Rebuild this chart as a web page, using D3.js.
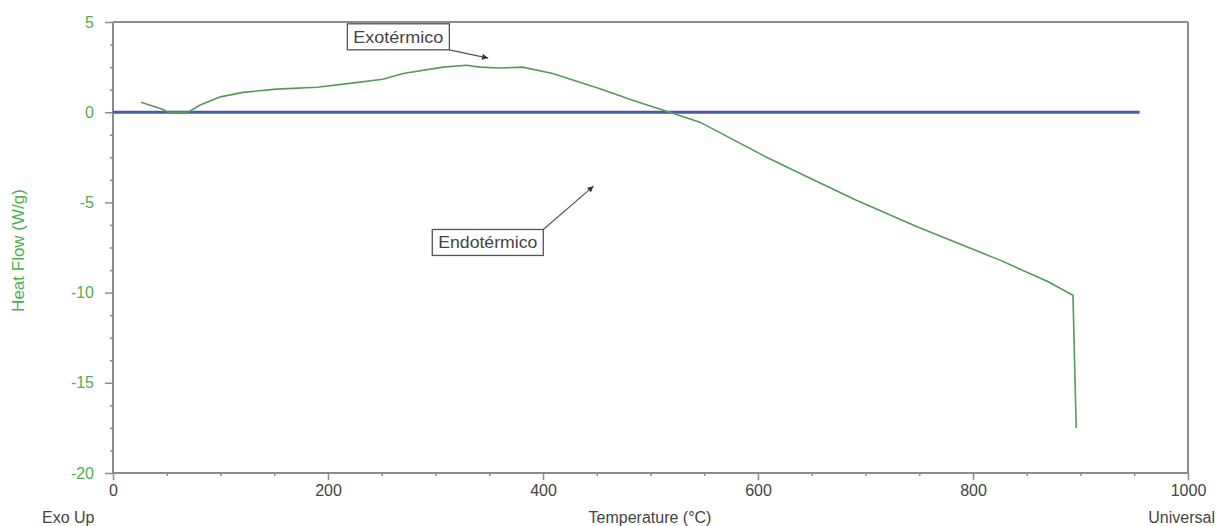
<!DOCTYPE html>
<html>
<head>
<meta charset="utf-8">
<script src="https://cdn.jsdelivr.net/npm/d3@7"></script>
<style>
  body { margin: 0; background: #fff; }
  text { font-family: "Liberation Sans", Arial, sans-serif; }
</style>
</head>
<body>
<svg id="chart" width="1217" height="526"></svg>
<script>
// DSC curve
const temps    = [26, 46, 51, 70, 81, 100, 121, 152, 190, 220, 251, 270, 307, 329, 341, 360, 381, 409, 453, 484, 515, 546, 608, 650, 692, 748, 825, 870, 893, 896]
const heatFlow = [0.55, 0.17, 0, 0, 0.4, 0.85, 1.1, 1.28, 1.38, 1.6, 1.83, 2.15, 2.5, 2.6, 2.5, 2.45, 2.5, 2.15, 1.3, 0.65, 0.05, -0.55, -2.5, -3.7, -4.9, -6.35, -8.2, -9.4, -10.15, -17.5]

// flat blue baseline
const baseTemps  = [0, 955]
const baseValues = [0, 0]

const xTicks = [0, 200, 400, 600, 800, 1000]
const yTicks = [-20, -15, -10, -5, 0, 5]

const notes = [
    {text: 'Exotérmico',  bx: 218, by: 4.9,  ex: 349, ey: 3.0},
    {text: 'Endotérmico', bx: 297, by: -6.5, ex: 447, ey: -4.1}
]

const margin = {top: 22, right: 29, bottom: 53, left: 113},
    width = 1217 - margin.left - margin.right,
    height = 526 - margin.top - margin.bottom

const axisGrey = '#8c8c8c', greenText = '#4fae4f', curveGreen = '#559a5a', blue = '#4b58a9'

let svg = d3.select('#chart')
svg.append('defs').append('marker')
    .attr('id', 'arrow')
    .attr('viewBox', '0 0 10 10')
    .attr('refX', 10).attr('refY', 5)
    .attr('markerWidth', 10).attr('markerHeight', 6)
    .attr('markerUnits', 'userSpaceOnUse')
    .attr('orient', 'auto')
    .append('path').attr('d', 'M0,0L10,5L0,10z').attr('fill', '#333')

let g = svg.append('g').attr('transform', `translate(${margin.left},${margin.top})`)

let x = d3.scaleLinear().domain([0, 1000]).range([0, width])
let y = d3.scaleLinear().domain([-20, 5]).range([height, 0])

// frame: top + right
g.append('line').attr('x1', 0).attr('x2', width).attr('y1', 0).attr('y2', 0)
    .attr('stroke', axisGrey).attr('stroke-width', 2)
g.append('line').attr('x1', width).attr('x2', width).attr('y1', 0).attr('y2', height)
    .attr('stroke', axisGrey).attr('stroke-width', 2)

// x axis
let xAxis = g.append('g').attr('transform', `translate(0,${height})`)
    .call(d3.axisBottom(x).tickValues(xTicks).tickSize(7).tickPadding(5).tickFormat(d => String(d)))
xAxis.append('g').call(d3.axisBottom(x).tickValues(d3.range(0, 1001, 50).filter(v => v % 200)).tickSize(3).tickFormat(''))
xAxis.selectAll('.domain').attr('d', `M0,0H${width}`)
xAxis.selectAll('path').attr('stroke', axisGrey).attr('stroke-width', 2)
xAxis.selectAll('line').attr('stroke', axisGrey).attr('stroke-width', 1.5)
xAxis.selectAll('text').attr('fill', '#444').style('font-size', '16px')

// y axis
let yAxis = g.append('g')
    .call(d3.axisLeft(y).tickValues(yTicks).tickSize(10).tickPadding(9).tickFormat(d => String(d)))
yAxis.append('g').call(d3.axisLeft(y).tickValues(d3.range(-20, 5.01, 1.25).filter(v => v % 5)).tickSize(5).tickFormat(''))
yAxis.selectAll('.domain').attr('d', `M0,0V${height}`)
yAxis.selectAll('path').attr('stroke', axisGrey).attr('stroke-width', 2)
yAxis.selectAll('line').attr('stroke', axisGrey).attr('stroke-width', 1.5).attr('x2', function () { return +d3.select(this).attr('x2') + 2 })
yAxis.selectAll('text').attr('fill', greenText).style('font-size', '16px')

// baseline
g.append('path')
    .datum(baseTemps.map((t, i) => [t, baseValues[i]]))
    .attr('d', d3.line().x(d => x(d[0])).y(d => y(d[1])))
    .attr('fill', 'none').attr('stroke', blue).attr('stroke-width', 3)

// curve
g.append('path')
    .datum(temps.map((t, i) => [t, heatFlow[i]]))
    .attr('d', d3.line().x(d => x(d[0])).y(d => y(d[1])))
    .attr('fill', 'none').attr('stroke', curveGreen).attr('stroke-width', 1.6)

// annotations
for (let n of notes) {
    let ng = g.append('g')
    let bx0 = x(n.bx), by0 = y(n.by)
    let box = ng.append('rect')
    let t = ng.append('text').text(n.text)
        .attr('x', bx0 + 6).attr('y', by0 + 19)
        .attr('fill', '#444').style('font-size', '16px')
        .attr('textLength', n.text.length * 9).attr('lengthAdjust', 'spacingAndGlyphs')
    let bw = n.text.length * 9 + 12, bh = 26
    box.attr('x', bx0).attr('y', by0).attr('width', bw).attr('height', bh)
        .attr('fill', '#fff').attr('stroke', '#555').attr('stroke-width', 1.3)
    // arrow leaves the corner facing its target
    let sy = n.ey < n.by ? by0 + bh : by0
    ng.append('line')
        .attr('x1', bx0 + bw).attr('y1', sy)
        .attr('x2', x(n.ex)).attr('y2', y(n.ey))
        .attr('stroke', '#555').attr('stroke-width', 1.2)
        .attr('marker-end', 'url(#arrow)')
}

// titles
svg.append('text').text('Heat Flow (W/g)')
    .attr('transform', `translate(24,${margin.top + height / 2 + 3}) rotate(-90)`)
    .attr('text-anchor', 'middle').attr('fill', greenText).style('font-size', '17px')
svg.append('text').text('Temperature (°C)')
    .attr('x', 650).attr('y', 523).attr('text-anchor', 'middle')
    .attr('fill', '#444').style('font-size', '16px')
svg.append('text').text('Exo Up')
    .attr('x', 42).attr('y', 523)
    .attr('fill', '#444').style('font-size', '16px')
svg.append('text').text('Universal')
    .attr('x', 1215).attr('y', 523).attr('text-anchor', 'end')
    .attr('fill', '#444').style('font-size', '16px')
</script>
</body>
</html>
